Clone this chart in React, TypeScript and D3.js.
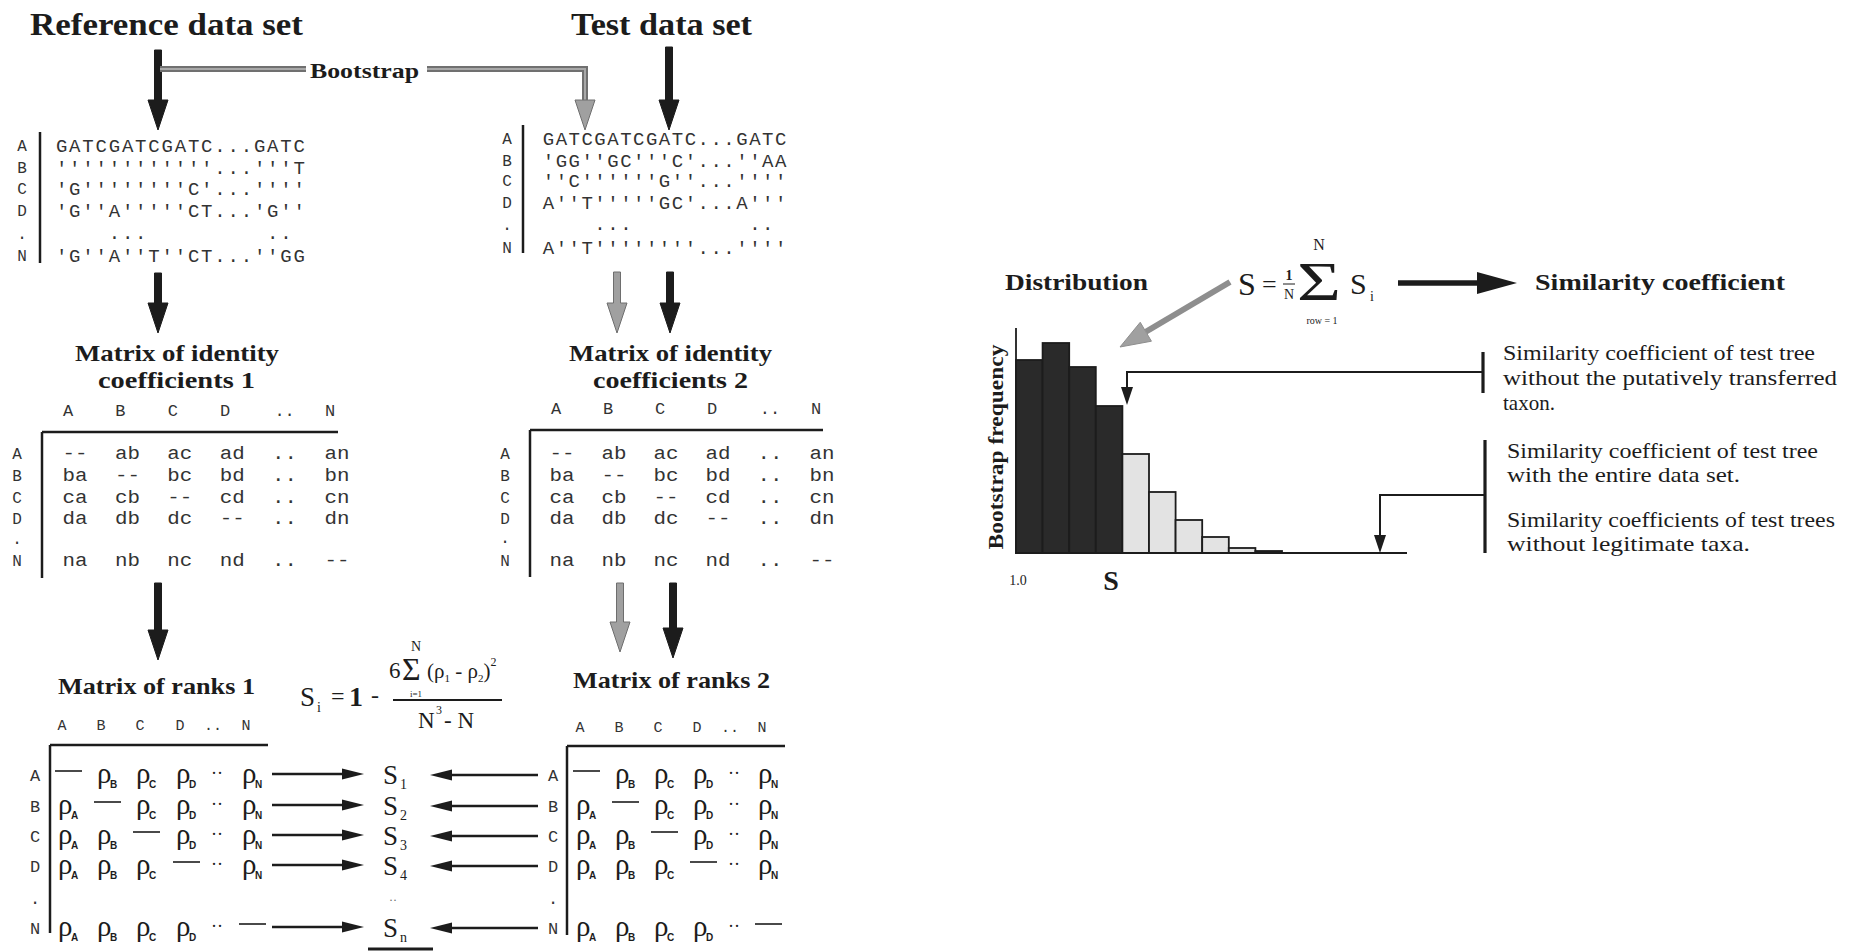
import React, { useEffect, useRef } from 'react';
import * as d3 from 'd3';

const W = 1854;
const H = 951;
const SERIF = '"Liberation Serif", "Times New Roman", serif';
const MONO = '"Liberation Mono", "Courier New", monospace';
const INK = '#1c1c1c';
const GREY = '#8e8e8e';

// taxa and matrix column labels
const taxa = ['A', 'B', 'C', 'D', '.', 'N'];
const matrixCols = ['A', 'B', 'C', 'D', '..', 'N'];

// aligned sequences (one string per taxon)
const referenceSeqs = [
  "GATCGATCGATC...GATC",
  "''''''''''''...'''T",
  "'G''''''''C'...''''",
  "'G''A'''''CT...'G''",
  "    ...         .. ",
  "'G''A''T''CT...''GG",
];
const testSeqs = [
  "GATCGATCGATC...GATC",
  "'GG''GC'''C'...''AA",
  "''C''''''G''...''''",
  "A''T'''''GC'...A'''",
  "    ...         .. ",
  "A''T''''''''...''''",
];

// identity coefficient cells
const identityCells = [
  ['--', 'ab', 'ac', 'ad', '..', 'an'],
  ['ba', '--', 'bc', 'bd', '..', 'bn'],
  ['ca', 'cb', '--', 'cd', '..', 'cn'],
  ['da', 'db', 'dc', '--', '..', 'dn'],
  [],
  ['na', 'nb', 'nc', 'nd', '..', '--'],
];

// rank cells: '-' diagonal, '..' ellipsis, otherwise rho subscript
const rankCells = [
  ['-', 'B', 'C', 'D', '..', 'N'],
  ['A', '-', 'C', 'D', '..', 'N'],
  ['A', 'B', '-', 'D', '..', 'N'],
  ['A', 'B', 'C', '-', '..', 'N'],
  [],
  ['A', 'B', 'C', 'D', '..', '-'],
];
const rowScores = ['1', '2', '3', '4', '..', 'n'];

// bootstrap distribution of S (bins from 1.0 downwards)
const binFreq = [19.3, 21.0, 18.6, 14.7, 9.9, 6.1, 3.3, 1.6, 0.5, 0.2];
const binDark = [true, true, true, true, false, false, false, false, false, true];

const noteTop = ['Similarity coefficient of test tree', 'without the putatively transferred', 'taxon.'];
const noteBottom = [
  'Similarity coefficient of test tree',
  'with the entire data set.',
  'Similarity coefficients of test trees',
  'without legitimate taxa.',
];

const App = () => {
  const svgRef = useRef<SVGSVGElement>(null);

  useEffect(() => {
    const svg = d3.select(svgRef.current);
    svg.selectAll('*').remove();
    const g = svg.append('g');

    const text = (s: string, x: number, y: number, size: number, o: any = {}) => {
      const t = g.append('text')
        .attr('x', x).attr('y', y)
        .attr('font-size', size)
        .attr('font-family', o.family || SERIF)
        .attr('font-weight', o.weight || 'normal')
        .attr('text-anchor', o.anchor || 'start')
        .attr('fill', o.fill || INK)
        .text(s);
      if (o.len) t.attr('textLength', o.len).attr('lengthAdjust', 'spacingAndGlyphs');
      return t;
    };
    const line = (x1: number, y1: number, x2: number, y2: number, w = 2, c = INK) =>
      g.append('line').attr('x1', x1).attr('y1', y1).attr('x2', x2).attr('y2', y2)
        .attr('stroke', c).attr('stroke-width', w);

    // thick vertical arrow pointing down
    const bigArrow = (x: number, y1: number, y2: number, fill = INK, stroke = INK) => {
      const sw = 3.5, hw = 10, hl = 30;
      g.append('path')
        .attr('d', `M${x - sw},${y1}V${y2 - hl}H${x - hw}L${x},${y2}L${x + hw},${y2 - hl}H${x + sw}V${y1}Z`)
        .attr('fill', fill).attr('stroke', stroke).attr('stroke-width', 1);
    };
    // thin horizontal arrow, head at x2
    const thinArrow = (x1: number, x2: number, y: number) => {
      const dir = Math.sign(x2 - x1), hl = 22, hw = 5.5;
      line(x1, y, x2 - dir * hl, y, 2.4);
      g.append('path').attr('d', `M${x2},${y}L${x2 - dir * hl},${y - hw}L${x2 - dir * hl},${y + hw}Z`).attr('fill', INK);
    };
    const downHead = (x: number, y: number, hl = 18, hw = 6) =>
      g.append('path').attr('d', `M${x},${y}L${x - hw},${y - hl}L${x + hw},${y - hl}Z`).attr('fill', INK);

    // ---------- titles and bootstrap line ----------
    text('Reference data set', 30, 35, 32, { weight: 'bold', len: 273 });
    text('Test data set', 571, 35, 32, { weight: 'bold', len: 181 });
    bigArrow(158, 50, 130);
    bigArrow(669, 47, 130);

    const boot = d3.path();
    boot.moveTo(160, 69); boot.lineTo(306, 69);
    boot.moveTo(427, 69); boot.lineTo(585, 69); boot.lineTo(585, 104);
    g.append('path').attr('d', boot.toString()).attr('fill', 'none').attr('stroke', '#707070').attr('stroke-width', 6);
    g.append('path').attr('d', boot.toString()).attr('fill', 'none').attr('stroke', '#a8a8a8').attr('stroke-width', 2);
    bigArrow(585, 100, 130, '#a0a0a0', '#6e6e6e');
    text('Bootstrap', 310, 78, 20, { weight: 'bold', len: 109 });

    // ---------- sequence blocks (one glyph per alignment column) ----------
    const seqBlock = (rows: string[], x0: number, cw: number, ys: number[], labelX: number, barX: number, barY: number[]) => {
      const col = d3.scaleLinear().domain([0, 1]).range([x0 + cw / 2, x0 + cw * 1.5]);
      rows.forEach((row, r) => {
        const dots = taxa[r] === '.';
        const by = ys[r] + (dots ? 2 : 6.5);
        text(taxa[r], labelX, ys[r] + (dots ? 2 : 6), 16, { family: MONO, anchor: 'middle', fill: '#333' });
        row.split('').forEach((ch, i) => {
          if (ch !== ' ') text(ch, col(i), by, 19, { family: MONO, anchor: 'middle', fill: '#333' });
        });
      });
      line(barX, barY[0], barX, barY[1], 2.5);
    };
    seqBlock(referenceSeqs, 55, 13.2, [145, 167, 188, 210, 237, 255], 22, 40, [132, 263]);
    seqBlock(testSeqs, 542, 12.9, [138, 160, 180, 202, 228, 247], 507, 523, [125, 253]);

    bigArrow(158, 273, 333);
    bigArrow(617, 272, 333, '#a0a0a0', '#6e6e6e');
    bigArrow(670, 272, 333);

    // ---------- identity matrices ----------
    const identityMatrix = (o: any) => {
      const x = d3.scalePoint<string>().domain(matrixCols).range(o.cells);
      text('Matrix of identity', o.t1[0], 361, 24, { weight: 'bold', len: o.t1[1] });
      text(o.t2s, o.t2[0], 388, 24, { weight: 'bold', len: o.t2[1] });
      matrixCols.forEach(c => text(c, (x(c) as number) - (c === '..' ? 0 : o.hOff), o.hy + 6, 17, { family: MONO, anchor: 'middle', fill: '#333' }));
      line(o.lx, o.ly, o.lx2, o.ly, 2.5);
      line(o.lx, o.ly, o.lx, o.vy2, 2.5);
      identityCells.forEach((row, r) => {
        text(taxa[r], o.labelX, o.ys[r] + (taxa[r] === '.' ? 2 : 6), 16, { family: MONO, anchor: 'middle', fill: '#333' });
        row.forEach((cell, c) => text(cell, x(matrixCols[c]) as number, o.ys[r] + 5.5, 19, { family: MONO, anchor: 'middle', fill: '#333', len: 25 }));
      });
    };
    identityMatrix({ cells: [75, 337], t1: [75, 204], t2: [98, 157], t2s: 'coefficients 1', hOff: 7, hy: 410,
      lx: 42, ly: 432, lx2: 338, vy2: 578, labelX: 17, ys: [453, 475, 497, 518, 542, 560] });
    identityMatrix({ cells: [562, 822], t1: [569, 203], t2: [593, 155], t2s: 'coefficients 2', hOff: 6, hy: 408,
      lx: 530, ly: 430, lx2: 823, vy2: 577, labelX: 505, ys: [453, 475, 497, 518, 541, 560] });

    bigArrow(158, 583, 660);
    bigArrow(620, 583, 652, '#a0a0a0', '#6e6e6e');
    bigArrow(673, 583, 658);

    // ---------- rank matrices ----------
    const rankMatrix = (o: any) => {
      const x = d3.scaleOrdinal<string, number>().domain(matrixCols).range(o.cols);
      text(o.title, o.tx, o.ty, 24, { weight: 'bold', len: 197 });
      matrixCols.forEach(c => text(c, x(c), o.hy + 5, 15, { family: MONO, anchor: 'middle', fill: '#333' }));
      line(o.lx, o.ly, o.lx2, o.ly, 2.5);
      line(o.lx, o.ly, o.lx, o.vy2, 2.5);
      rankCells.forEach((row, r) => {
        const y = o.ys[r];
        text(taxa[r], o.labelX, y + (taxa[r] === '.' ? 2 : 6), 17, { family: MONO, anchor: 'middle', fill: '#333' });
        row.forEach((cell, c) => {
          const cx = x(matrixCols[c]);
          if (cell === '-') line(cx - 7, y - 4, cx + 20, y - 4, 1.6);
          else if (cell === '..') text('··', cx + 4, y + 4, 18, { anchor: 'middle' });
          else {
            text('ρ', cx - 4, y + 8, 29);
            text(cell, cx + 9, y + 13, 10, { weight: 'bold', family: '"Liberation Sans", sans-serif' });
          }
        });
      });
    };
    const rankYs = [775, 806, 836, 866, 902, 928];
    rankMatrix({ title: 'Matrix of ranks 1', tx: 58, ty: 694, cols: [62, 101, 140, 180, 213, 246], hy: 725,
      lx: 50, ly: 745, lx2: 268, vy2: 933, labelX: 35, ys: rankYs });
    rankMatrix({ title: 'Matrix of ranks 2', tx: 573, ty: 688, cols: [580, 619, 658, 697, 730, 762], hy: 727,
      lx: 567, ly: 746, lx2: 785, vy2: 935, labelX: 553, ys: rankYs });

    // row scores S1..Sn with arrows from both matrices
    rowScores.forEach((s, r) => {
      const y = rankYs[r];
      if (s === '..') { text('··', 393, y + 2, 12, { anchor: 'middle', fill: '#666' }); return; }
      text('S', 383, y + 9, 27);
      text(s, 400, y + 14, 14);
      thinArrow(272, 364, y - 1);
      thinArrow(538, 430, y);
    });
    line(368, 949, 433, 949, 3);

    // Spearman formula
    text('S', 300, 706, 27);
    text('i', 317, 712, 14);
    text('=', 331, 704, 24);
    text('1', 349, 706, 28, { weight: 'bold' });
    text('-', 371, 703, 24);
    text('6', 389, 678, 23);
    text('Σ', 402, 680, 32);
    text('N', 416, 651, 14, { anchor: 'middle' });
    text('i=1', 416, 697, 9, { anchor: 'middle' });
    const num = text('(ρ', 427, 678, 21);
    num.append('tspan').attr('font-size', 11).attr('dy', 4).text('1');
    num.append('tspan').attr('dy', -4).text(' - ρ');
    num.append('tspan').attr('font-size', 11).attr('dy', 4).text('2');
    num.append('tspan').attr('dy', -4).text(')');
    num.append('tspan').attr('font-size', 12).attr('dy', -12).text('2');
    line(393, 700, 502, 700, 1.8);
    text('N', 418, 728, 23);
    text('3', 436, 714, 12);
    text('- N', 444, 728, 23);

    // ---------- right: distribution ----------
    text('Distribution', 1005, 290, 23, { weight: 'bold', len: 143 });
    text('Similarity coefficient', 1535, 290, 23, { weight: 'bold', len: 250 });

    text('S', 1238, 295, 32);
    text('=', 1262, 293, 26);
    text('1', 1289, 280, 14, { anchor: 'middle', weight: 'bold' });
    line(1283, 284, 1295, 284, 1);
    text('N', 1289, 299, 14, { anchor: 'middle' });
    text('Σ', 1297, 300, 54, { len: 44 });
    text('N', 1319, 250, 16, { anchor: 'middle' });
    text('row = 1', 1322, 324, 10, { anchor: 'middle' });
    text('S', 1350, 294, 30);
    text('i', 1370, 301, 14);

    // black arrow to "Similarity coefficient"
    line(1398, 283, 1480, 283, 5.5);
    g.append('path').attr('d', 'M1517,283L1477,272L1477,294Z').attr('fill', INK);

    // grey arrow from S to the distribution
    {
      const x1 = 1230, y1 = 282, x2 = 1120, y2 = 347;
      const len = Math.hypot(x2 - x1, y2 - y1);
      const ux = (x2 - x1) / len, uy = (y2 - y1) / len;
      const hl = 30, hw = 11;
      const bx = x2 - ux * hl, by = y2 - uy * hl;
      line(x1, y1, bx, by, 6, GREY);
      g.append('path')
        .attr('d', `M${x2},${y2}L${bx - uy * hw},${by + ux * hw}L${bx + uy * hw},${by - ux * hw}Z`)
        .attr('fill', '#a0a0a0').attr('stroke', GREY);
    }

    // histogram
    const x = d3.scaleBand<number>().domain(d3.range(binFreq.length)).range([1016, 1282]).paddingInner(0);
    const y = d3.scaleLinear().domain([0, 22.5]).range([553, 328]);
    g.append('g').selectAll('rect')
      .data(binFreq)
      .join('rect')
      .attr('x', (d, i) => x(i) as number)
      .attr('y', d => y(d))
      .attr('width', x.bandwidth())
      .attr('height', d => y(0) - y(d))
      .attr('fill', (d, i) => (binDark[i] ? '#2a2a2a' : '#e3e3e3'))
      .attr('stroke', INK)
      .attr('stroke-width', 1.8);
    line(1016, y(22.5), 1016, y(0), 1.8);
    line(1015, y(0), 1407, y(0), 2.2);

    g.append('text')
      .attr('transform', 'translate(1003,447) rotate(-90)')
      .attr('text-anchor', 'middle')
      .attr('font-family', SERIF).attr('font-weight', 'bold').attr('font-size', 21)
      .attr('textLength', 205).attr('lengthAdjust', 'spacingAndGlyphs')
      .attr('fill', INK)
      .text('Bootstrap frequency');
    text('1.0', 1018, 585, 14, { anchor: 'middle' });
    text('S', 1111, 590, 28, { anchor: 'middle', weight: 'bold' });

    // pointers to the notes
    g.append('path').attr('d', 'M1483,372H1127V388').attr('fill', 'none').attr('stroke', INK).attr('stroke-width', 2);
    downHead(1127, 405);
    line(1483, 352, 1483, 393, 3.2);
    g.append('path').attr('d', 'M1485,495H1380V537').attr('fill', 'none').attr('stroke', INK).attr('stroke-width', 2);
    downHead(1380, 553);
    line(1485, 440, 1485, 553, 3.2);

    const topLens = [312, 334, 0];
    noteTop.forEach((s, i) => text(s, 1503, [360, 385, 410][i], 21, { len: topLens[i] || undefined }));
    const botLens = [311, 233, 328, 243];
    noteBottom.forEach((s, i) => text(s, 1507, [458, 482, 527, 551][i], 21, { len: botLens[i] }));
  }, []);

  return (
    <svg
      ref={svgRef}
      width={W}
      height={H}
      style={{ position: 'absolute', left: 0, top: 0, background: '#fff', display: 'block' }}
    />
  );
};

export default App;
